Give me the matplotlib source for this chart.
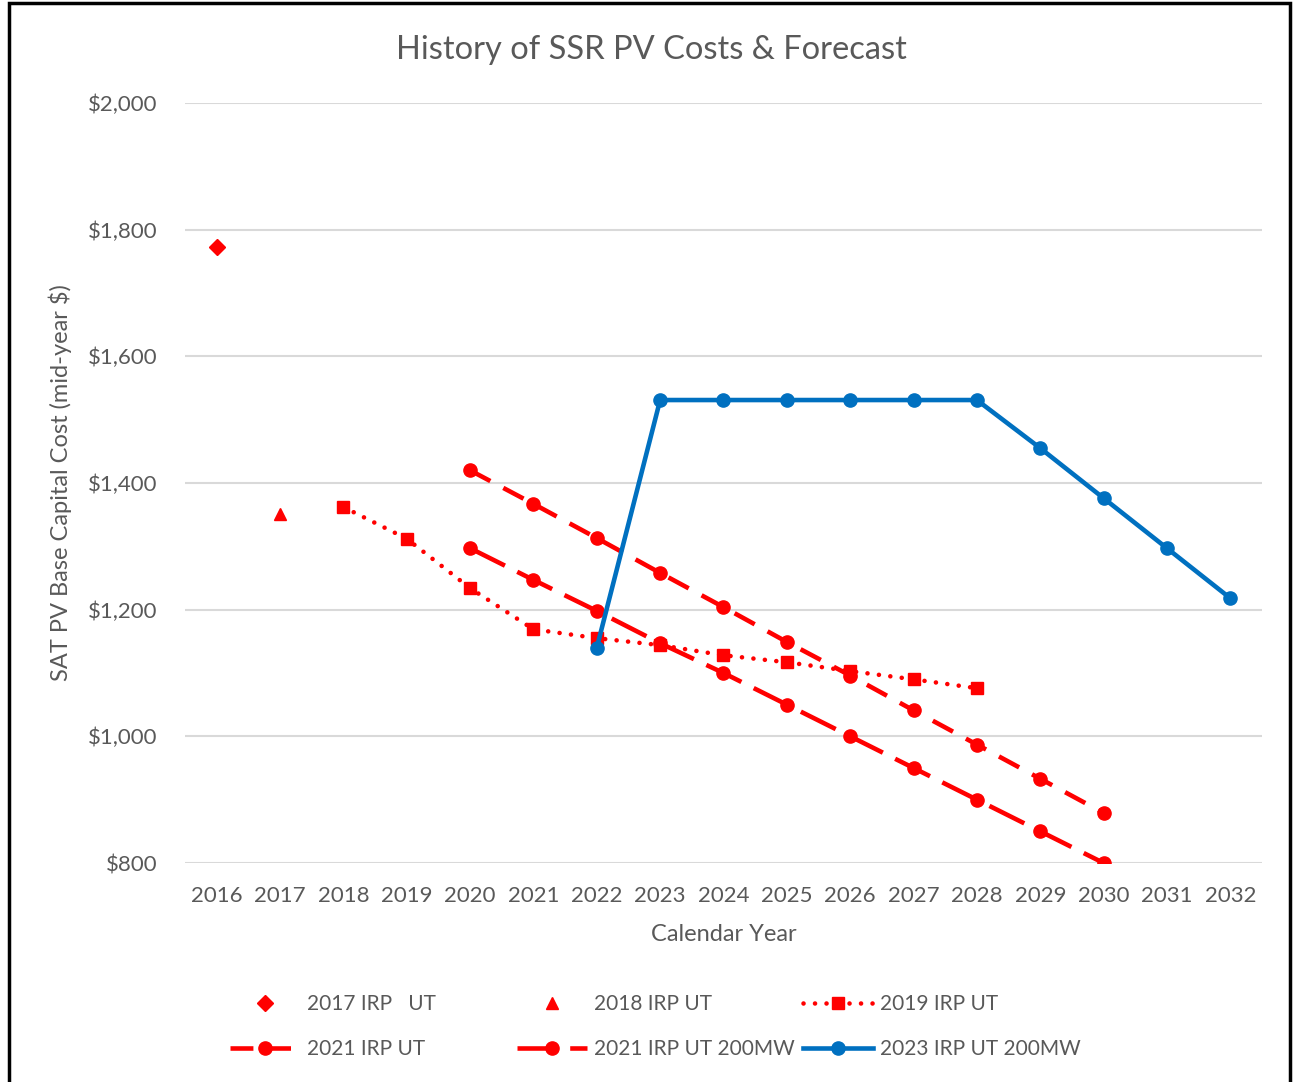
import matplotlib.pyplot as plt
from matplotlib.patches import Rectangle
from matplotlib.ticker import FuncFormatter

plt.rcParams['font.family'] = ['Lato', 'DejaVu Sans']

years = list(range(2016, 2033))

irp2017_x = [2016]
irp2017_y = [1773]

irp2018_x = [2017]
irp2018_y = [1351]

irp2019_x = list(range(2018, 2029))
irp2019_y = [1362, 1312, 1234, 1169, 1155, 1144, 1128, 1117, 1103, 1090, 1076]

irp2021_x = list(range(2020, 2031))
irp2021_y = [1420, 1367, 1313, 1258, 1204, 1149, 1096, 1041, 987, 933, 879]

irp2021_200_x = list(range(2020, 2031))
irp2021_200_y = [1297, 1247, 1198, 1147, 1100, 1050, 1000, 950, 900, 850, 800]

irp2023_200_x = list(range(2022, 2033))
irp2023_200_y = [1140, 1531, 1531, 1531, 1531, 1531, 1531, 1455, 1376, 1297, 1218]

RED = '#FF0000'
BLUE = '#0070C0'
GREY = '#595959'
W, H = 1293, 1082

fig = plt.figure(figsize=(W / 100, H / 100), dpi=100)
ax = fig.add_axes([185 / W, 1 - 863 / H, (1262 - 185) / W, (863 - 103) / H])

lw = 3.3
h1, = ax.plot(irp2017_x, irp2017_y, ls='none', marker='D', ms=8, color=RED)
h2, = ax.plot(irp2018_x, irp2018_y, ls='none', marker='^', ms=9, color=RED)
h3, = ax.plot(irp2019_x, irp2019_y, ls=(0, (0.01, 2.5)), lw=lw, marker='s', ms=9,
              color=RED, dash_capstyle='round')
h4, = ax.plot(irp2021_x, irp2021_y, ls=(0, (5, 3.2)), lw=lw, marker='o', ms=9.5,
              color=RED)
h5, = ax.plot(irp2021_200_x, irp2021_200_y, ls=(0, (8.5, 3)), lw=lw, marker='o',
              ms=9.5, color=RED)
h6, = ax.plot(irp2023_200_x, irp2023_200_y, ls='-', lw=lw, marker='o', ms=9.5,
              color=BLUE)

ax.set_xlim(2015.5, 2032.5)
ax.set_ylim(800, 2000)
ax.set_xticks(years)
ax.set_yticks(range(800, 2001, 200))
ax.yaxis.set_major_formatter(FuncFormatter(lambda v, p: f'${v:,.0f}'))
ax.grid(axis='y', color='#D9D9D9', lw=1.5)
ax.set_axisbelow(True)
for s in ax.spines.values():
    s.set_visible(False)
ax.tick_params(length=0, colors=GREY)
ax.tick_params(axis='y', pad=19.5, labelsize=16)
ax.tick_params(axis='x', pad=16.5, labelsize=16)

ax.set_xlabel('Calendar Year', fontsize=17, color=GREY, labelpad=13)
ax.set_ylabel('SAT PV Base Capital Cost (mid-year $)', fontsize=17, color=GREY,
              labelpad=12)
fig.text(651 / W, 1 - 50 / H, 'History of SSR PV Costs & Forecast', fontsize=23.5,
         color=GREY, ha='center', va='center')

# legend entries placed one by one on a 3 x 2 grid
entries = [
    (h1, '2017 IRP   UT', 230, 1004),
    (h2, '2018 IRP UT', 517, 1004),
    (h3, '2019 IRP UT', 803, 1004),
    (h4, '2021 IRP UT', 230, 1049),
    (h5, '2021 IRP UT 200MW', 517, 1049),
    (h6, '2023 IRP UT 200MW', 803, 1049),
]
fs = 15
fpx = fs * 100 / 72
for h, lab, x, y in entries:
    fig.legend([h], [lab], loc='center left', bbox_to_anchor=(x / W, 1 - y / H),
               frameon=False, fontsize=fs, labelcolor=GREY, numpoints=1,
               handlelength=70 / fpx, handletextpad=7 / fpx, borderpad=0,
               borderaxespad=0)

# outer frame
fig.patches.append(Rectangle((9 / W, -0.01), (1290 - 9) / W, 1 - 3 / H + 0.01,
                             transform=fig.transFigure, fill=False,
                             edgecolor='black', lw=2.5))

fig.savefig('out.png', dpi=100)
